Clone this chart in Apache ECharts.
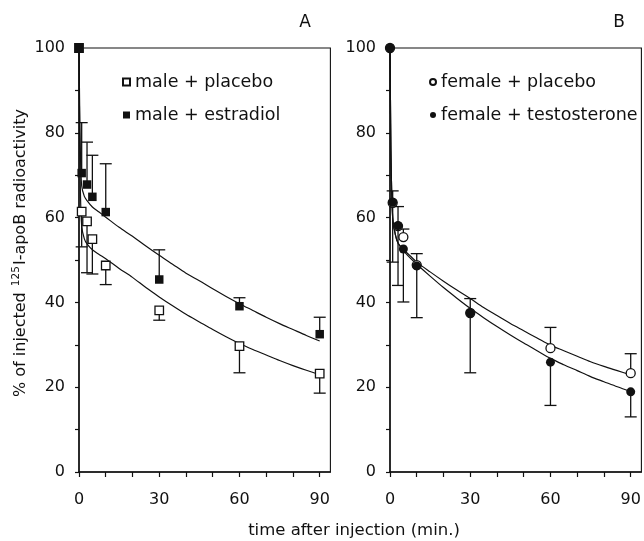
<!DOCTYPE html>
<html>
<head>
<meta charset="utf-8">
<script src="https://cdn.jsdelivr.net/npm/echarts@6/dist/echarts.min.js"></script>
<style>html,body{margin:0;padding:0;background:#fff}#c{width:644px;height:541px}</style>
</head>
<body>
<div id="c"></div>
<script>
// ---------- data ----------
const times = [0, 1, 3, 5, 10, 30, 60, 90];
const xTickValues = [0, 10, 20, 30, 40, 50, 60, 70, 80, 90];
const xLabelValues = [0, 30, 60, 90];
const yTickValues = [0, 10, 20, 30, 40, 50, 60, 70, 80, 90, 100];
const yLabelValues = [0, 20, 40, 60, 80, 100];

// Panel A
const malePlacebo      = [100, 61.4, 59.1, 54.9, 48.7, 38.1, 29.7, 23.2];
const malePlaceboLow   = [null, 53.1, 47.0, 46.7, 44.2, 35.8, 23.4, 18.6];
const maleEstradiol    = [100, 70.5, 67.8, 64.9, 61.3, 45.4, 39.1, 32.5];
const maleEstradiolHigh= [null, 82.4, 77.8, 74.7, 72.7, 52.4, 41.1, 36.5];

// Panel B
const femalePlacebo      = [100, 63.5, 58.0, 55.4, 48.8, 37.5, 29.2, 23.3];
const femalePlaceboHigh  = [null, 66.3, 62.6, 57.3, 51.5, 40.9, 34.1, 27.9];
const femaleTesto        = [100, 63.6, 58.1, 52.6, 48.6, 37.5, 25.9, 18.9];
const femaleTestoLow     = [null, 49.5, 44.0, 40.1, 36.4, 23.4, 15.7, 13.0];

// fitted curves
const fitTimes         = [0, 0.25, 0.5, 1, 2, 3, 5, 7.5, 10, 15, 20, 25, 30, 35, 40, 45, 50, 55, 60, 65, 70, 75, 80, 85, 90];
const fitMalePlacebo   = [100, 80, 67, 58, 55, 53.8, 52.4, 51.3, 50.3, 48.0, 45.9, 43.5, 41.3, 39.2, 37.2, 35.4, 33.6, 31.9, 30.3, 28.9, 27.6, 26.3, 25.1, 24.0, 23.0];
const fitMaleEstradiol = [100, 86, 76, 67.5, 65, 64, 62.5, 61.3, 60.1, 57.7, 55.6, 53.3, 51.1, 49.0, 46.9, 45.1, 43.2, 41.4, 39.7, 38.1, 36.5, 35.0, 33.6, 32.2, 30.9];
const fitFemalePlacebo = [100, 82, 70, 60, 56, 54, 52.5, 51.0, 49.5, 47.2, 45.0, 42.9, 40.9, 38.8, 36.9, 35.0, 33.3, 31.6, 29.9, 28.6, 27.3, 26.0, 24.9, 23.9, 22.9];
const fitFemaleTesto   = [100, 82, 70, 60, 56, 54, 52.2, 50.5, 49.0, 46.2, 43.5, 41.0, 38.6, 36.4, 34.3, 32.3, 30.4, 28.6, 26.8, 25.3, 23.9, 22.5, 21.3, 20.1, 19.0];

// ---------- helpers ----------
const FONT = 'DejaVu Sans';
const INK = '#111';
const pairs = (xs, ys) => xs.map((x, i) => [x, ys[i]]);
const errData = (xs, ys, bs) => xs.map((x, i) => [x, ys[i], bs[i]]).filter(d => d[2] != null);

function errRender(params, api) {
  const x = api.value(0), y1 = api.value(1), y2 = api.value(2);
  const p1 = api.coord([x, y1]), p2 = api.coord([x, y2]);
  const w = 6;
  const st = { stroke: INK, lineWidth: 1.3 };
  return { type: 'group', children: [
    { type: 'line', shape: { x1: p1[0], y1: p1[1], x2: p2[0], y2: p2[1] }, style: st },
    { type: 'line', shape: { x1: p2[0] - w, y1: p2[1], x2: p2[0] + w, y2: p2[1] }, style: st }
  ]};
}

function xAx(gi) {
  return {
    type: 'value', gridIndex: gi, min: 0, max: 94,
    axisLine: { show: true, lineStyle: { color: INK, width: 1.5 } },
    axisTick: { show: true, inside: false, length: 5, customValues: xTickValues, lineStyle: { color: INK, width: 1.2 } },
    axisLabel: { customValues: xLabelValues, margin: 20, fontFamily: FONT, fontSize: 16, color: INK },
    splitLine: { show: false }
  };
}
function yAx(gi) {
  return {
    type: 'value', gridIndex: gi, min: 0, max: 100,
    axisLine: { show: true, lineStyle: { color: INK, width: 1.5 } },
    axisTick: { show: true, inside: false, length: 4, customValues: yTickValues, lineStyle: { color: INK, width: 1.2 } },
    axisLabel: { customValues: yLabelValues, margin: 14, fontFamily: FONT, fontSize: 16, color: INK },
    splitLine: { show: false }
  };
}
function fitLine(gi, xs, ys) {
  return { type: 'line', xAxisIndex: gi, yAxisIndex: gi, data: pairs(xs, ys), showSymbol: false,
    symbol: 'none', smooth: 0.3, lineStyle: { color: INK, width: 1.2 }, z: 3, silent: true };
}
function errSeries(gi, xs, ys, bs) {
  return { type: 'custom', xAxisIndex: gi, yAxisIndex: gi, data: errData(xs, ys, bs), renderItem: errRender, z: 2, silent: true };
}

const openSq  = { color: '#fff', borderColor: INK, borderWidth: 1.3, opacity: 1 };
const fillSq  = { color: INK, borderColor: INK, borderWidth: 0, opacity: 1 };

const chart = echarts.init(document.getElementById('c'), null, { renderer: 'canvas' });
chart.setOption({
  animation: false,
  backgroundColor: '#fff',
  grid: [
    { left: 79, top: 48, width: 251.4, height: 424, show: true, borderColor: INK, borderWidth: 1.1, backgroundColor: 'transparent' },
    { left: 390, top: 48, width: 251.4, height: 424, show: true, borderColor: INK, borderWidth: 1.1, backgroundColor: 'transparent' }
  ],
  xAxis: [xAx(0), xAx(1)],
  yAxis: [yAx(0), yAx(1)],
  legend: [
    { left: 122, top: 73, padding: 0, orient: 'vertical', itemWidth: 7, itemHeight: 7, itemGap: 15,
      data: ['male + placebo', 'male + estradiol'],
      textStyle: { fontFamily: FONT, fontSize: 17.5, color: INK }, selectedMode: false },
    { left: 429, top: 73, padding: 0, orient: 'vertical', itemWidth: 6, itemHeight: 7, itemGap: 15,
      data: ['female + placebo', 'female + testosterone'],
      textStyle: { fontFamily: FONT, fontSize: 17.5, color: INK }, selectedMode: false }
  ],
  series: [
    fitLine(0, fitTimes, fitMalePlacebo),
    fitLine(0, fitTimes, fitMaleEstradiol),
    fitLine(1, fitTimes, fitFemalePlacebo),
    fitLine(1, fitTimes, fitFemaleTesto),
    errSeries(0, times, malePlacebo, malePlaceboLow),
    errSeries(0, times, maleEstradiol, maleEstradiolHigh),
    errSeries(1, times, femalePlacebo, femalePlaceboHigh),
    errSeries(1, times, femaleTesto, femaleTestoLow),
    { name: 'male + placebo', type: 'scatter', xAxisIndex: 0, yAxisIndex: 0, data: pairs(times, malePlacebo),
      symbol: 'rect', symbolSize: 8.5, itemStyle: openSq, z: 5, clip: false },
    { name: 'male + estradiol', type: 'scatter', xAxisIndex: 0, yAxisIndex: 0, data: pairs(times, maleEstradiol),
      symbol: 'rect', symbolSize: 8.5, itemStyle: fillSq, z: 6, clip: false },
    { name: 'female + placebo', type: 'scatter', xAxisIndex: 1, yAxisIndex: 1, data: pairs(times, femalePlacebo),
      symbol: 'circle', symbolSize: 9, itemStyle: openSq, z: 5, clip: false },
    { name: 'female + testosterone', type: 'scatter', xAxisIndex: 1, yAxisIndex: 1, data: pairs(times, femaleTesto),
      symbol: 'circle', symbolSize: 9, itemStyle: fillSq, z: 6, clip: false }
  ],
  graphic: [
    { type: 'text', x: 305, y: 23, style: { text: 'A', font: '17px "DejaVu Sans"', fill: INK, align: 'center', verticalAlign: 'middle' } },
    { type: 'text', x: 619, y: 23, style: { text: 'B', font: '17px "DejaVu Sans"', fill: INK, align: 'center', verticalAlign: 'middle' } },
    { type: 'text', x: 354, y: 531, style: { text: 'time after injection (min.)', font: '16.5px "DejaVu Sans"', fill: INK, align: 'center', verticalAlign: 'middle' } },
    { type: 'text', x: 21, y: 253, rotation: Math.PI / 2,
      style: {
        text: '{a|% of injected }{s|125}{a|I-apoB radioactivity}',
        align: 'center', verticalAlign: 'middle', fill: INK,
        rich: {
          a: { fontFamily: FONT, fontSize: 16, fill: INK, lineHeight: 20 },
          s: { fontFamily: FONT, fontSize: 10.5, fill: INK, lineHeight: 20, verticalAlign: 'top', padding: [0, 1, 8, 1] }
        }
      } }
  ]
});
</script>
</body>
</html>
